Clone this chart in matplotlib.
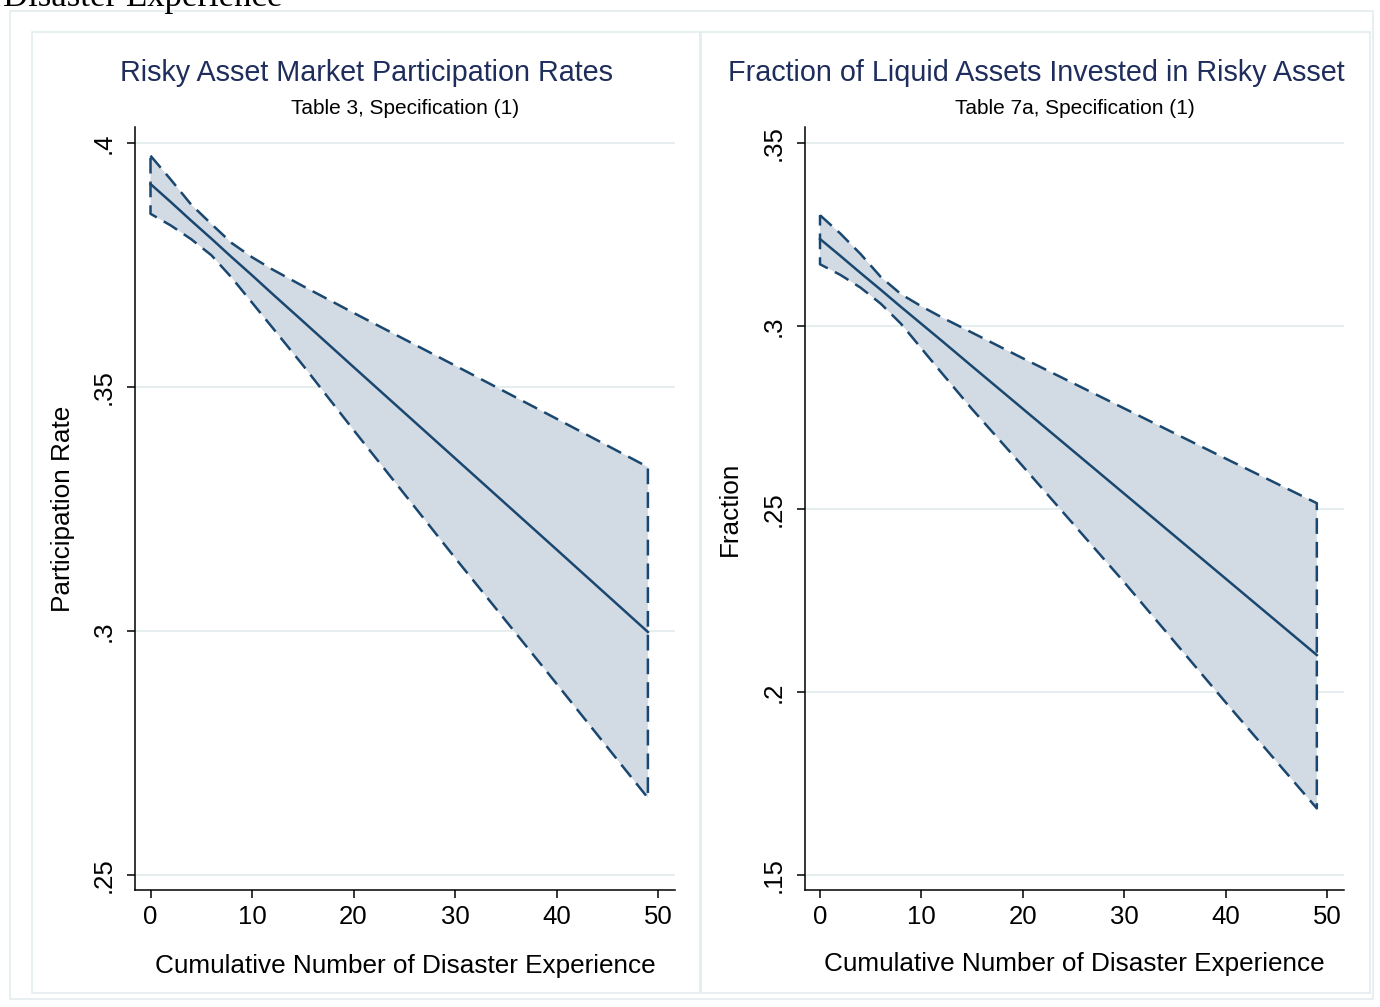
import matplotlib
matplotlib.use("Agg")
import matplotlib.pyplot as plt
from matplotlib.patches import Rectangle
import numpy as np

plt.rcParams.update({'font.family': ['Liberation Sans', 'DejaVu Sans']})

W, H = 1380, 1007

# Left panel: participation rate vs. cumulative disaster experience
part_x = [0, 2, 4, 6, 8, 10, 12, 15, 20, 30, 40, 49]
part_fit = [0.3916, 0.3879, 0.3841, 0.3804, 0.3766, 0.3729, 0.3691, 0.3635, 0.3541, 0.3354, 0.3167, 0.2998]
part_hi = [0.3974, 0.3925, 0.3874, 0.3834, 0.3795, 0.3766, 0.3741, 0.3707, 0.3652, 0.3544, 0.3435, 0.3336]
part_lo = [0.3855, 0.3831, 0.3803, 0.3770, 0.3724, 0.3673, 0.3622, 0.3545, 0.3412, 0.3150, 0.2892, 0.2658]

# Right panel: fraction of liquid assets in risky asset
frac_x = [0, 2, 4, 6, 8, 10, 12, 15, 20, 30, 40, 49]
frac_fit = [0.3238, 0.3192, 0.3145, 0.3099, 0.3052, 0.3006, 0.2960, 0.2890, 0.2774, 0.2542, 0.2310, 0.2101]
frac_hi = [0.3303, 0.3253, 0.3197, 0.3134, 0.3087, 0.3054, 0.3024, 0.2982, 0.2912, 0.2775, 0.2638, 0.2516]
frac_lo = [0.3169, 0.3140, 0.3105, 0.3061, 0.3006, 0.2939, 0.2872, 0.2773, 0.2617, 0.2300, 0.1972, 0.1682]

part_yticks = [0.25, 0.30, 0.35, 0.40]
part_ylabels = ['.25', '.3', '.35', '.4']
frac_yticks = [0.15, 0.20, 0.25, 0.30, 0.35]
frac_ylabels = ['.15', '.2', '.25', '.3', '.35']
xticks = [0, 10, 20, 30, 40, 50]

line_col = '#1a476f'
fill_col = '#d2dbe4'
grid_col = '#e6eef0'
frame_col = '#e4ecee'
title_col = '#1f2d5c'


def fx(px):
    return px / W


def fy(py):
    return 1 - py / H


fig = plt.figure(figsize=(W / 100, H / 100), dpi=100)

# graph frames
for x0, y0, x1, y1 in [(10, 11, 1373, 999), (32, 32, 700, 993), (701, 32, 1370, 993)]:
    fig.add_artist(Rectangle((fx(x0), fy(y1)), fx(x1) - fx(x0), fy(y0) - fy(y1),
                             transform=fig.transFigure, fill=False,
                             edgecolor=frame_col, linewidth=1.2))

fig.text(fx(3), fy(6), 'Disaster Experience', family='Liberation Serif',
         fontsize=25, ha='left', va='baseline', color='black')

panels = [
    dict(left=135, right=675, ylim=(0.24693, 0.40328), xlim=(-1.527, 51.67),
         x=part_x, fit=part_fit, hi=part_hi, lo=part_lo,
         yticks=part_yticks, ylabels=part_ylabels, ylabel='Participation Rate',
         title='Risky Asset Market Participation Rates', sub='Table 3, Specification (1)',
         pcenter=366, ylab_x=63, xlab_y=966),
    dict(left=805, right=1344, ylim=(0.1459, 0.3544), xlim=(-1.48, 51.68),
         x=frac_x, fit=frac_fit, hi=frac_hi, lo=frac_lo,
         yticks=frac_yticks, ylabels=frac_ylabels, ylabel='Fraction',
         title='Fraction of Liquid Assets Invested in Risky Asset', sub='Table 7a, Specification (1)',
         pcenter=1036, ylab_x=730, xlab_y=964),
]

top, bottom = 127, 890

for p in panels:
    ax = fig.add_axes([fx(p['left']), fy(bottom), fx(p['right']) - fx(p['left']), fy(top) - fy(bottom)])
    x = np.array(p['x'])
    hi = np.array(p['hi'])
    lo = np.array(p['lo'])

    # confidence band: shaded polygon with dashed outline
    poly_x = np.concatenate([x, x[::-1], x[:1]])
    poly_y = np.concatenate([hi, lo[::-1], hi[:1]])
    ax.fill(poly_x[:-1], poly_y[:-1], color=fill_col, zorder=2, linewidth=0)
    ax.plot(poly_x, poly_y, color=line_col, linewidth=1.8, dashes=(6.3, 3.2), zorder=3)
    ax.plot(x, p['fit'], color=line_col, linewidth=1.8, zorder=4)

    ax.set_xlim(p['xlim'])
    ax.set_ylim(p['ylim'])
    ax.set_xticks(xticks)
    ax.set_yticks(p['yticks'])
    ax.set_yticklabels(p['ylabels'], rotation=90, va='center')
    for yv in p['yticks']:
        ax.axhline(yv, color=grid_col, linewidth=1.5, zorder=1)

    for side in ['top', 'right']:
        ax.spines[side].set_visible(False)
    for side in ['left', 'bottom']:
        ax.spines[side].set_linewidth(1.1)
    ax.tick_params(axis='both', direction='out', length=6, width=1.1, labelsize=18.5)
    ax.tick_params(axis='x', pad=5)
    ax.tick_params(axis='y', pad=8)

    ax.set_xlabel('Cumulative Number of Disaster Experience', fontsize=18.8)
    ax.xaxis.set_label_coords(0.5, (bottom - p['xlab_y']) / (bottom - top))
    ax.xaxis.label.set_va('center')
    ax.set_ylabel(p['ylabel'], fontsize=18.8)
    ax.yaxis.label.set_va('center')
    ax.yaxis.set_label_coords((p['ylab_x'] - p['left']) / (p['right'] - p['left']), 0.5)

    fig.text(fx(p['pcenter']), fy(73), p['title'], fontsize=20.7, color=title_col,
             ha='center', va='center')
    fig.text(fx((p['left'] + p['right']) / 2), fy(108), p['sub'], fontsize=15,
             ha='center', va='center')

plt.savefig('out.png', dpi=100)
